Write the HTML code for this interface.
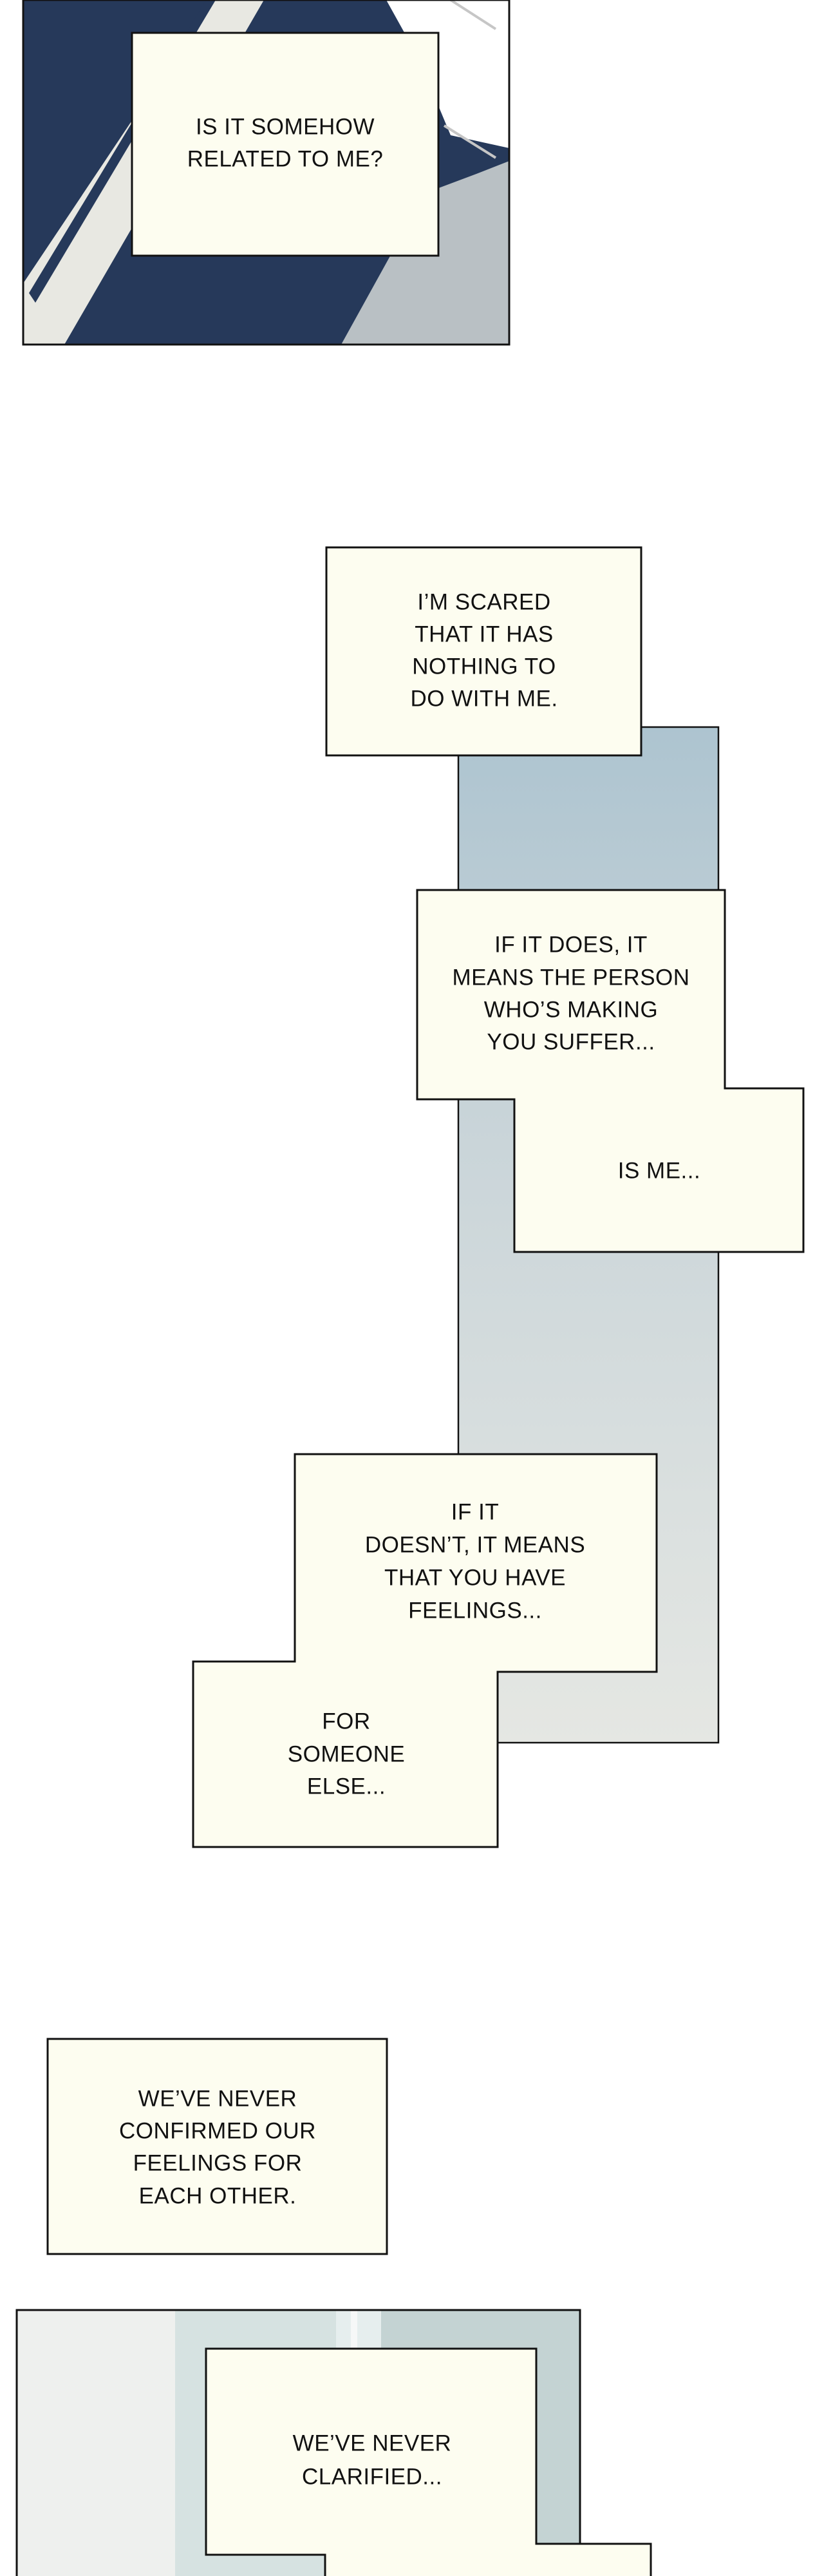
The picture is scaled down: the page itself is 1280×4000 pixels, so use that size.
<!DOCTYPE html>
<html><head><meta charset="utf-8"><style>
html,body{margin:0;padding:0;background:#fff;}
svg{display:block;}
text{font-family:"Liberation Sans",sans-serif;font-size:35px;fill:#111;text-anchor:middle;dominant-baseline:middle;letter-spacing:0.5px;}
</style></head><body>
<svg width="1280" height="4000" viewBox="0 0 1280 4000" xmlns="http://www.w3.org/2000/svg">
<defs>
<linearGradient id="g1" x1="0" y1="0" x2="0" y2="1">
<stop offset="0" stop-color="#adc4d0"/><stop offset="0.35" stop-color="#c7d3d8"/><stop offset="1" stop-color="#e5e7e3"/>
</linearGradient>
</defs>
<!-- top panel -->
<rect x="36" y="0" width="755" height="535" fill="#26395a"/>
<polygon points="600,0 791,0 791,230 700,210 650,90" fill="#ffffff"/>
<polygon points="530,535 660,300 740,270 791,250 791,535" fill="#b9c0c4"/>
<polygon points="36,440 330,0 410,0 100,535 36,535" fill="#e8e8e2"/>
<polygon points="320,0 335,0 55,470 45,455" fill="#26395a"/>
<path d="M700,0 L770,45" stroke="#c6c6c6" stroke-width="4"/>
<path d="M690,195 L770,245" stroke="#c6c6c6" stroke-width="4"/>
<rect x="36" y="0" width="755" height="535" fill="none" stroke="#111" stroke-width="3"/>
<rect x="205" y="51" width="476" height="346" fill="#fdfdf0" stroke="#111" stroke-width="3"/>
<text x="443" y="199">IS IT SOMEHOW</text>
<text x="443" y="249">RELATED TO ME?</text>

<!-- middle panel -->
<rect x="712" y="1129" width="404" height="1577" fill="url(#g1)" stroke="#111" stroke-width="2.5"/>
<rect x="507" y="850" width="489" height="323" fill="#fdfdf0" stroke="#111" stroke-width="3"/>
<text x="752" y="937">I’M SCARED</text>
<text x="752" y="987">THAT IT HAS</text>
<text x="752" y="1037">NOTHING TO</text>
<text x="752" y="1087">DO WITH ME.</text>

<polygon points="648,1382 1126,1382 1126,1690 1248,1690 1248,1944 799,1944 799,1707 648,1707" fill="#fdfdf0" stroke="#111" stroke-width="3"/>
<text x="887" y="1469">IF IT DOES, IT</text>
<text x="887" y="1520">MEANS THE PERSON</text>
<text x="887" y="1570">WHO’S MAKING</text>
<text x="887" y="1620">YOU SUFFER...</text>
<text x="1024" y="1820">IS ME...</text>

<polygon points="458,2258 1020,2258 1020,2596 773,2596 773,2868 300,2868 300,2580 458,2580" fill="#fdfdf0" stroke="#111" stroke-width="3"/>
<text x="738" y="2350">IF IT</text>
<text x="738" y="2401">DOESN’T, IT MEANS</text>
<text x="738" y="2452">THAT YOU HAVE</text>
<text x="738" y="2503">FEELINGS...</text>
<text x="538" y="2675">FOR</text>
<text x="538" y="2726">SOMEONE</text>
<text x="538" y="2776">ELSE...</text>

<rect x="74" y="3166" width="527" height="334" fill="#fdfdf0" stroke="#111" stroke-width="3"/>
<text x="338" y="3261">WE’VE NEVER</text>
<text x="338" y="3311">CONFIRMED OUR</text>
<text x="338" y="3361">FEELINGS FOR</text>
<text x="338" y="3412">EACH OTHER.</text>

<!-- bottom panel -->
<rect x="26" y="3587" width="875" height="430" fill="#c4d3d3"/>
<rect x="26" y="3587" width="246" height="430" fill="#eef0ee"/>
<rect x="272" y="3587" width="250" height="430" fill="#d6e2e1"/>
<rect x="522" y="3587" width="70" height="430" fill="#e6eeee"/>
<rect x="545" y="3587" width="10" height="430" fill="#f6f8f8"/>
<rect x="26" y="3587" width="875" height="430" fill="none" stroke="#111" stroke-width="3"/>
<polygon points="320,3647 833,3647 833,3950 1011,3950 1011,4010 505,4010 505,3967 320,3967" fill="#fdfdf0" stroke="#111" stroke-width="3"/>
<text x="578" y="3796">WE’VE NEVER</text>
<text x="578" y="3848">CLARIFIED...</text>
</svg>
</body></html>
